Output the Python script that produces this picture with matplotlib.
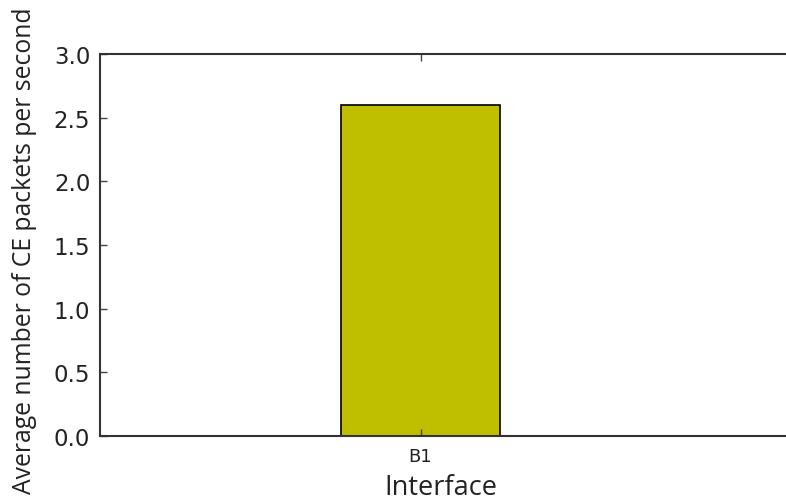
import matplotlib
matplotlib.use("Agg")
import matplotlib.pyplot as plt

interfaces = ["B1"]
ce_rate = [2.6]

plt.rcParams['font.family'] = ['Open Sans', 'DejaVu Sans']

W, H = 786, 502
fig = plt.figure(figsize=(W / 100, H / 100), dpi=100)
# axes run past the right edge of the figure, so the right spine is cut away
ax = fig.add_axes([100 / W, 1 - 437 / H, 700 / W, 382 / H])

ax.bar(range(len(interfaces)), ce_rate, width=1.0, color=(0.75, 0.75, 0.0),
       edgecolor='black', linewidth=1.2)

ax.set_xlim(-2.016, 2.387)
ax.set_ylim(0, 3.0)
ax.set_yticks([0.0, 0.5, 1.0, 1.5, 2.0, 2.5, 3.0])
ax.set_yticklabels(["%.1f" % v for v in ax.get_yticks()], fontsize=16.5,
                   family='DejaVu Sans', color='#222222')
ax.set_xticks(range(len(interfaces)))
ax.set_xticklabels(interfaces, fontsize=13, family='DejaVu Sans', color='#222222')

ax.tick_params(direction='in', top=True, right=True, length=5, width=1, color='#444444')
ax.tick_params(axis='y', pad=7)
ax.tick_params(axis='x', pad=8)

for s in ax.spines.values():
    s.set_linewidth(1.5)
    s.set_color('#333333')

fig.text(441 / W, 1 - 495 / H, "Interface", fontsize=19.5, color='#222222',
         ha='center', va='baseline')
fig.text(25 / W, 1 - 251 / H, "Average number of CE packets per second", fontsize=17.8,
         color='#222222', rotation=90, ha='center', va='center')

fig.savefig("out.png", dpi=100)
